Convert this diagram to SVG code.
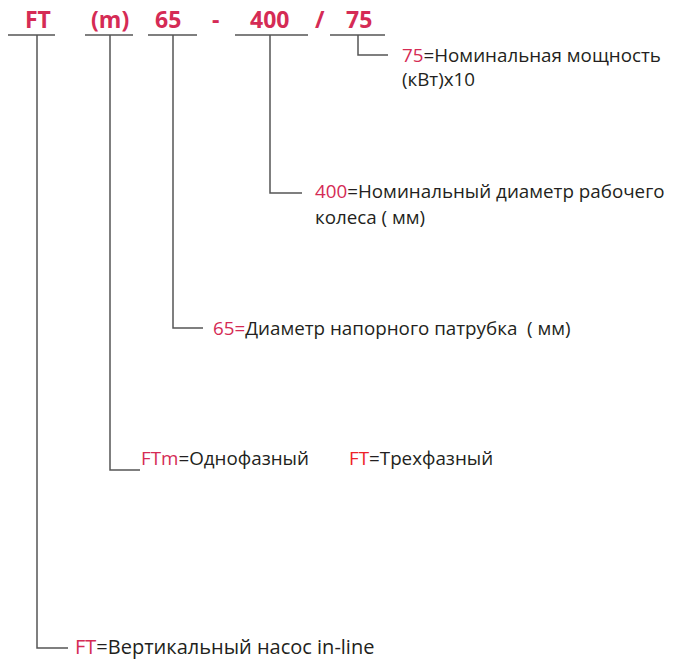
<svg xmlns="http://www.w3.org/2000/svg" width="683" height="660" viewBox="0 0 683 660">
<style>
.t{font-family:"Open Sans","Noto Sans","Liberation Sans",sans-serif;font-size:23px;font-weight:bold;fill:#d52b55}
.l{font-family:"Open Sans","Noto Sans","Liberation Sans",sans-serif;font-size:18.8px;fill:#231f20}
.b{font-size:20px}
.r{fill:#d52b55}
.rr{fill:#ee2229}
.ln{stroke:#555;stroke-width:1.5;fill:none}
</style>
<rect width="683" height="660" fill="#fff"/>
<g id="title">
<text class="t" x="25" y="28">FT</text>
<text class="t" x="91" y="28">(m)</text>
<text class="t" x="155" y="28">65</text>
<text class="t" x="212" y="28">-</text>
<text class="t" x="250" y="28">400</text>
<text class="t" x="315" y="28">/</text>
<text class="t" x="346" y="28">75</text>
</g>
<g id="connectors">
<path class="ln" d="M8 35H55M85 35H133M148 35H197M235 35H308M330 35H385"/>
<path class="ln" d="M358 35V55H388"/>
<path class="ln" d="M270 35V193H302"/>
<path class="ln" d="M173 35V328H203"/>
<path class="ln" d="M110 35V470H140"/>
<path class="ln" d="M37 35V648H68"/>
</g>
<g id="n75">
<text class="l" x="402" y="62"><tspan class="r">75</tspan>=Номинальная мощность</text>
<text class="l" x="402" y="86">(кВт)x10</text>
</g>
<g id="n400">
<text class="l" x="315" y="198"><tspan class="r">400</tspan>=Номинальный диаметр рабочего</text>
<text class="l" x="315" y="224">колеса ( мм)</text>
</g>
<g id="n65">
<text class="l" x="213" y="335" xml:space="preserve"><tspan class="r">65=</tspan>Диаметр напорного патрубка  ( мм)</text>
</g>
<g id="nFTm">
<text class="l" x="141" y="465"><tspan class="r">FTm</tspan>=Однофазный</text>
<text class="l" x="349" y="465"><tspan class="rr">FT</tspan>=Трехфазный</text>
</g>
<g id="nFT">
<text class="l b" x="75" y="654"><tspan class="r">FT</tspan>=Вертикальный насос in-line</text>
</g>
</svg>
